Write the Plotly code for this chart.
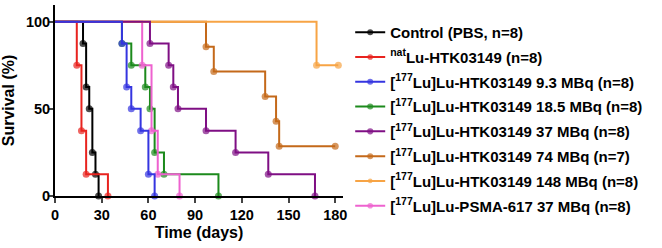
import plotly.graph_objects as go

# ---------------- data ----------------
series_names = [
    "Control (PBS, n=8)",
    "<sup>nat</sup>Lu-HTK03149 (n=8)",
    "[<sup>177</sup>Lu]Lu-HTK03149 9.3 MBq (n=8)",
    "[<sup>177</sup>Lu]Lu-HTK03149 18.5 MBq (n=8)",
    "[<sup>177</sup>Lu]Lu-HTK03149 37 MBq (n=8)",
    "[<sup>177</sup>Lu]Lu-HTK03149 74 MBq (n=7)",
    "[<sup>177</sup>Lu]Lu-HTK03149 148 MBq (n=8)",
    "[<sup>177</sup>Lu]Lu-PSMA-617 37 MBq (n=8)",
]

control_days = [0, 18, 20, 22, 24, 26, 28]
control_surv = [100, 87.5, 62.5, 50, 25, 12.5, 0]

natlu_days = [0, 14, 17, 20, 34]
natlu_surv = [100, 75, 37.5, 12.5, 0]

lu9_days = [0, 43, 46, 49, 55, 60, 64]
lu9_surv = [100, 87.5, 62.5, 50, 37.5, 12.5, 0]

lu18_days = [0, 43, 49, 58, 61, 64, 70, 105]
lu18_surv = [100, 87.5, 75, 62.5, 50, 25, 12.5, 0]

lu37_days = [0, 61, 73, 76, 79, 97, 116, 137, 167]
lu37_surv = [100, 87.5, 75, 62.5, 50, 37.5, 25, 12.5, 0]

lu74_days = [0, 97, 102, 135, 142, 144, 180]
lu74_surv = [100, 85.7, 71.4, 57.1, 42.9, 28.6, 28.6]

lu148_days = [0, 168, 182]
lu148_surv = [100, 75, 75]

psma_days = [0, 56, 62, 66, 80]
psma_surv = [100, 75, 37.5, 12.5, 0]

x_ticks = [0, 30, 60, 90, 120, 150, 180]
y_ticks = [0, 50, 100]

colors = ["#000000", "#e8231f", "#3535e0", "#1c8a1c", "#7f0f84",
          "#c4691a", "#f7a445", "#ee62cf"]

data = [
    (control_days, control_surv),
    (natlu_days, natlu_surv),
    (lu9_days, lu9_surv),
    (lu18_days, lu18_surv),
    (lu37_days, lu37_surv),
    (lu74_days, lu74_surv),
    (lu148_days, lu148_surv),
    (psma_days, psma_surv),
]

# drawing order (last on top), legend keeps original order
draw_order = [0, 1, 3, 7, 5, 6, 4, 2]

fig = go.Figure()
for i in draw_order:
    d, s = data[i]
    sizes = [0] + [7] * (len(d) - 1)
    fig.add_trace(go.Scatter(
        x=d, y=s, name=series_names[i],
        mode="lines+markers",
        line=dict(color=colors[i], width=2, shape="hv"),
        marker=dict(color=colors[i], size=sizes, line=dict(width=0)),
        cliponaxis=False,
        legendrank=i + 1,
        legendgroup=f"g{i}",
    ))

font_family = "Liberation Sans, Arial, sans-serif"

fig.update_layout(
    width=662, height=248,
    margin=dict(l=55, r=319, t=5, b=52, autoexpand=False),
    paper_bgcolor="white", plot_bgcolor="white",
    font=dict(family=font_family, color="black", size=14, weight="bold"),
    showlegend=True,
    legend=dict(
        x=1.025, y=0.943, xanchor="left", yanchor="top",
        font=dict(family=font_family, size=15, color="black", weight="bold"),
        tracegroupgap=2.3, itemwidth=30, bgcolor="rgba(0,0,0,0)",
        maxheight=400,
    ),
    xaxis=dict(
        range=[0, 185], tickvals=x_ticks, ticks="outside", ticklen=5,
        tickwidth=2, showline=True, linewidth=2, linecolor="black",
        showgrid=False, zeroline=False, automargin=False,
        tickfont=dict(size=14.5, family=font_family, weight="bold"),
        title=dict(text="Time (days)", standoff=4,
                   font=dict(size=16, family=font_family, weight="bold")),
    ),
    yaxis=dict(
        range=[0, 109.6], tickvals=y_ticks, ticks="outside", ticklen=5,
        tickwidth=2, showline=True, linewidth=2, linecolor="black",
        showgrid=False, zeroline=False, ticklabelstandoff=-5, automargin=False,
        tickfont=dict(size=14.5, family=font_family, weight="bold"),
        title=dict(text="Survival (%)", standoff=8,
                   font=dict(size=16, family=font_family, weight="bold")),
    ),
)

fig.write_html(
    "out.html",
    config={"displayModeBar": False},
    post_script="document.body.style.margin='0';document.body.style.overflow='hidden';",
)
